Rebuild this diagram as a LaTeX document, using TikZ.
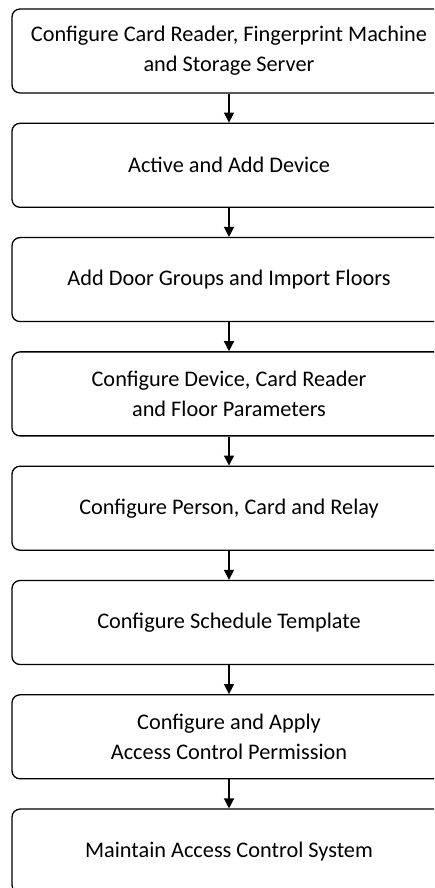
\documentclass[tikz,border=0pt]{standalone}
\usepackage{fontspec}
\setmainfont{Carlito}
\usetikzlibrary{arrows.meta,positioning}

\begin{document}
\begin{tikzpicture}[x=1pt, y=1pt, >={Triangle[width=10pt,length=10pt]},
  stage/.style={draw, line width=1.3pt, rounded corners=8pt, minimum width=434pt, minimum height=84pt, align=center, font=\fontsize{22.3}{30}\selectfont}]
\useasboundingbox (0,0) rectangle (434,888);
\clip (0,0) rectangle (434,888);
\node[stage] (config) at (229,837) {Configure Card Reader, Fingerprint Machine\\and Storage Server};
\node[stage, below=29pt of config] (active) {Active and Add Device};
\node[stage, below=29pt of active] (doors) {Add Door Groups and Import Floors};
\node[stage, below=29pt of doors] (params) {Configure Device, Card Reader\\and Floor Parameters};
\node[stage, below=29pt of params] (person) {Configure Person, Card and Relay};
\node[stage, below=29pt of person] (schedule) {Configure Schedule Template};
\node[stage, below=29pt of schedule] (permission) {Configure and Apply\\Access Control Permission};
\node[stage, below=29pt of permission] (maintain) {Maintain Access Control System};
\foreach \a/\b in {config/active, active/doors, doors/params, params/person, person/schedule, schedule/permission, permission/maintain}
  \draw[->, line width=1.3pt] (\a) -- (\b);
\end{tikzpicture}
\end{document}
